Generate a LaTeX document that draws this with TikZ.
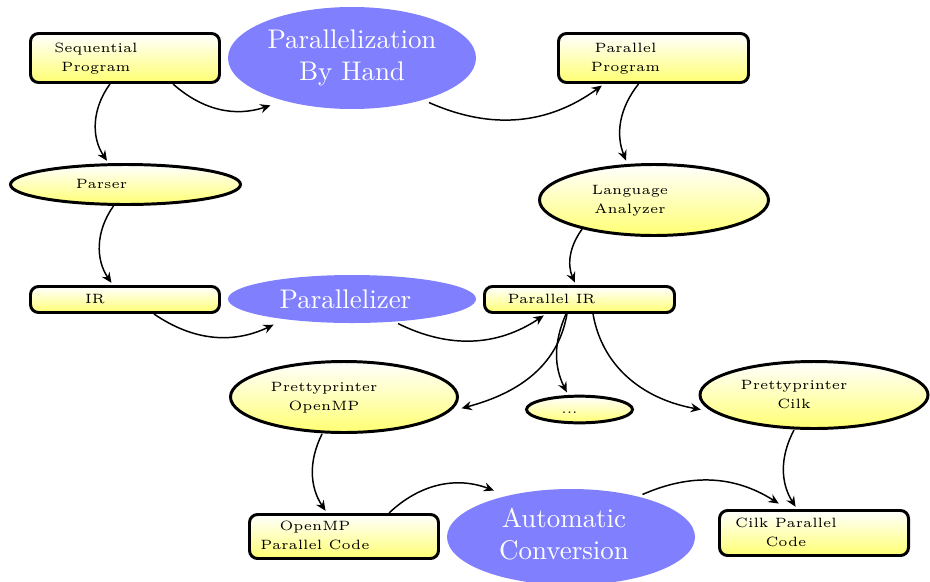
\documentclass[tikz,border=0pt]{standalone}
\usetikzlibrary{shapes.geometric,arrows.meta}

\newlength{\pxu}
\setlength{\pxu}{0.371pt}
\newcommand{\boxtext}[2][56]{\begin{tabular}{@{}c@{}}#2\end{tabular}\kern#1\pxu}

\tikzstyle{smallfont}=[font=\fontsize{5}{7}\selectfont]
\tikzstyle{ybox}=[draw, smallfont, rounded corners=3pt, line width=1.1pt, top color=white, bottom color=yellow!55, inner sep=0pt]
\tikzstyle{yell}=[ellipse, draw, smallfont, line width=1.1pt, top color=white, bottom color=yellow!55, inner sep=0pt]
\tikzstyle{bell}=[ellipse, fill=blue!50, text=white, font=\normalsize, inner sep=0pt, align=center]
\tikzstyle{flow}=[->, >={Stealth[length=3.8pt,width=3.4pt,inset=1.3pt]}, line width=0.55pt, shorten >=1pt]

\begin{document}
\begin{tikzpicture}[x=\pxu, y=\pxu]
\useasboundingbox (0,0) rectangle (930,581);

% top row
\node[ybox, minimum width=189\pxu, minimum height=49\pxu] (seq) at (125,523) {\boxtext[58]{Sequential\\Program}};
\node[bell, minimum width=248\pxu, minimum height=102\pxu] (hand) at (352,523) {Parallelization\\By Hand};
\node[ybox, minimum width=190\pxu, minimum height=49\pxu] (par) at (653.5,523) {\boxtext{Parallel\\Program}};

% front ends
\node[yell, minimum width=230\pxu, minimum height=40\pxu] (parser) at (125.5,396.5) {\boxtext[48]{Parser}};
\node[yell, minimum width=229\pxu, minimum height=71\pxu] (lang) at (654,381) {\boxtext[48]{Language\\Analyzer}};

% intermediate representations
\node[ybox, minimum width=189\pxu, minimum height=26\pxu] (ir) at (125,281.5) {\boxtext[60]{IR}};
\node[bell, minimum width=248\pxu, minimum height=48\pxu] (parz) at (352,282) {Parallelizer\kern13\pxu};
\node[ybox, minimum width=190\pxu, minimum height=26\pxu] (pir) at (579.5,281.5) {\boxtext{Parallel IR}};

% back ends
\node[yell, minimum width=227\pxu, minimum height=71\pxu] (ppomp) at (344,184) {\boxtext[40]{Prettyprinter\\OpenMP}};
\node[yell, minimum width=106\pxu, minimum height=26\pxu] (dots) at (579.5,171.5) {\boxtext[20]{...}};
\node[yell, minimum width=228\pxu, minimum height=67\pxu] (ppcilk) at (814,186) {\boxtext[40]{Prettyprinter\\Cilk}};

% generated code
\node[ybox, minimum width=189\pxu, minimum height=44\pxu] (ompcode) at (344,44.5) {\boxtext[58]{OpenMP\\Parallel Code}};
\node[bell, minimum width=248\pxu, minimum height=96\pxu] (auto) at (571,44) {\begin{tabular}{@{}c@{}}Automatic\\Conversion\end{tabular}\kern14\pxu};
\node[ybox, minimum width=189\pxu, minimum height=45\pxu] (cilkcode) at (814,48) {\boxtext{Cilk Parallel\\Code}};

% flow
\draw[flow] ([xshift=-15\pxu]seq.south) to[bend right=35] ([xshift=-17\pxu]parser.north);
\draw[flow] ([xshift=-12\pxu]parser.south) to[bend right=35] ([xshift=-12\pxu]ir.north);
\draw[flow] ([xshift=-15\pxu]par.south) to[bend right=30] ([xshift=-27\pxu]lang.north);
\draw[flow] (lang.202) to[bend right=30] ([xshift=-3.5\pxu]pir.north);

\draw[flow] ([xshift=48\pxu]seq.south) to[bend right=30] ([xshift=-79\pxu,yshift=5\pxu]hand.south);
\draw[flow] ([xshift=77\pxu,yshift=7\pxu]hand.south) to[bend right=30] ([xshift=-49.5\pxu]par.south);

\draw[flow] ([xshift=29\pxu]ir.south) to[bend right=30] ([xshift=-76\pxu]parz.south);
\draw[flow] ([xshift=46\pxu]parz.south) to[bend right=30] ([xshift=-33.5\pxu]pir.south);

\draw[flow] ([xshift=-12.5\pxu]pir.south) to[out=-100,in=15] ([yshift=-12\pxu]ppomp.east);
\draw[flow] ([xshift=-13.5\pxu]pir.south) to[bend right=25] ([xshift=-11.5\pxu]dots.north);
\draw[flow] ([xshift=13.5\pxu]pir.south) to[out=-80,in=170] ([xshift=5\pxu,yshift=-15\pxu]ppcilk.west);

\draw[flow] ([xshift=-22\pxu]ppomp.south) to[bend right=30] ([xshift=-17\pxu]ompcode.north);
\draw[flow] ([xshift=-20\pxu]ppcilk.south) to[bend right=30] ([xshift=-17\pxu]cilkcode.north);

\draw[flow] ([xshift=45\pxu]ompcode.north) to[bend left=32] ([xshift=-74.5\pxu,yshift=-3\pxu]auto.north);
\draw[flow] ([xshift=71.5\pxu,yshift=-6\pxu]auto.north) to[bend left=28] ([xshift=-33\pxu,yshift=4\pxu]cilkcode.north);
\end{tikzpicture}
\end{document}
